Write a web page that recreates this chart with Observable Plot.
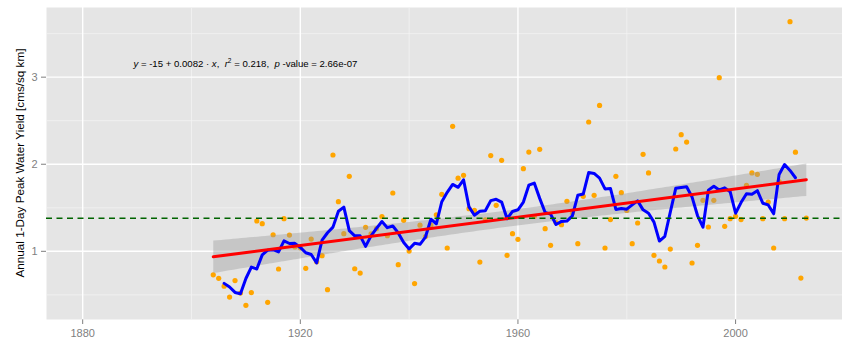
<!DOCTYPE html>
<html>
<head>
<meta charset="utf-8">
<script src="https://cdn.jsdelivr.net/npm/d3@7"></script>
<script src="https://cdn.jsdelivr.net/npm/@observablehq/plot@0.6"></script>
<style>
  html, body { margin: 0; padding: 0; background: #ffffff; }
  #chart { width: 842px; height: 341px; }
</style>
</head>
<body>
<div id="chart"></div>
<script>
// ---- data ----
const years = [
  1904,1905,1906,1907,1908,1909,1910,1911,1912,1913,
  1914,1915,1916,1917,1918,1919,1920,1921,1922,1923,
  1924,1925,1926,1927,1928,1929,1930,1931,1932,1933,
  1934,1935,1936,1937,1938,1939,1940,1941,1942,1943,
  1944,1945,1946,1947,1948,1949,1950,1951,1952,1953,
  1954,1955,1956,1957,1958,1959,1960,1961,1962,1963,
  1964,1965,1966,1967,1968,1969,1970,1971,1972,1973,
  1974,1975,1976,1977,1978,1979,1980,1981,1982,1983,
  1984,1985,1986,1987,1988,1989,1990,1991,1992,1993,
  1994,1995,1996,1997,1998,1999,2000,2001,2002,2003,
  2004,2005,2006,2007,2008,2009,2010,2011,2012,2013
];
const peakYield = [
  0.73, 0.69, 0.60, 0.475,0.664,0.52, 0.38, 0.526,1.348,1.318,
  0.414,1.19, 0.797,1.375,1.187,1.05, 1.04, 0.805,1.141,0.88,
  0.95, 0.56, 2.106,1.57, 1.203,1.861,0.80, 0.75, 1.276,1.20,
  1.26, 1.40, 1.18, 1.67, 0.847,1.356,1.003,0.629,1.30, 1.17,
  1.30, 1.42, 1.654,1.038,2.435,1.84, 1.873,1.49, 1.47, 0.877,
  1.36, 2.099,1.528,2.045,0.954,1.203,1.138,1.949,2.14, 1.40,
  2.171,1.26, 1.069,1.33, 1.306,1.574,1.44, 1.088,1.631,2.485,
  1.643,2.676,1.038,1.364,1.861,1.674,1.47, 1.088,1.325,2.114,
  1.90, 0.954,0.889,0.82, 1.026,2.175,2.34, 2.255,0.866,1.069,
  1.586,1.279,1.586,2.994,1.287,1.375,1.402,1.364,1.758,1.90,
  1.884,1.375,1.566,1.038,1.80, 1.375,3.637,2.138,0.693,1.382
];
const xTicks = [1880, 1920, 1960, 2000];
const xMinor = [1900, 1940, 1980];
const yTicks = [1, 2, 3];
const yMinor = [0.5, 1.5, 2.5, 3.5];
const xDomain = [1873.35, 2019.65];
const yDomain = [0.217, 3.80];
const yTitle = "Annual 1-Day Peak Water Yield [cms/sq km]";
const annotation = {x: 1910, y: 3.155,
  parts: [["y", true], [" = -15 + 0.0082 \u00b7 ", false], ["x", true], [",  ", false],
          ["r", true], ["2", "sup"], [" = 0.218,  ", false], ["p", true], [" -value = 2.66e-07", false]]};

const data = years.map((year, i) => ({year, value: peakYield[i]}));

const W = 842, H = 341;
const mL = 46, mR = 0, mT = 7, mB = 22;

const plot = Plot.plot({
  width: W, height: H,
  marginLeft: mL, marginRight: mR, marginTop: mT, marginBottom: mB,
  style: {fontFamily: "'Liberation Sans', Arial, sans-serif", fontSize: "11px", color: "#7F7F7F", background: "#ffffff"},
  x: {domain: xDomain, ticks: xTicks, tickFormat: d => String(d), tickSize: 5, tickPadding: 5, label: null},
  y: {domain: yDomain, ticks: yTicks, tickFormat: d => String(d), tickSize: 5, tickPadding: 4, label: null},
  marks: [
    Plot.frame({fill: "#E5E5E5", stroke: "none"}),
    Plot.ruleX(xMinor, {stroke: "#F2F2F2", strokeWidth: 0.8}),
    Plot.ruleY(yMinor, {stroke: "#F2F2F2", strokeWidth: 0.8}),
    Plot.ruleX(xTicks, {stroke: "#ffffff", strokeWidth: 1.4}),
    Plot.ruleY(yTicks, {stroke: "#ffffff", strokeWidth: 1.4}),
    Plot.dot(data, {x: "year", y: "value", r: 2.6, fill: "#FFA500", stroke: "none"}),
    Plot.linearRegressionY(data, {x: "year", y: "value", stroke: "none", fill: "#999999", fillOpacity: 0.4}),
    Plot.lineY(data, Plot.windowY({k: 5, anchor: "middle", reduce: "mean", strict: true},
      {x: "year", y: "value", stroke: "#0000FF", strokeWidth: 3})),
    Plot.linearRegressionY(data, {x: "year", y: "value", stroke: "#FF0000", strokeWidth: 3, ci: 0}),
    Plot.ruleY(data, Plot.groupZ({y: "mean"}, {y: "value", stroke: "#006400", strokeWidth: 1.3, strokeDasharray: "6,4.5"}))
  ]
});

document.getElementById("chart").appendChild(plot);

// helpers to position text through the plot's own scales
function sx(v) {
  const s = plot.scale("x");
  if (s && typeof s.apply === "function") return s.apply(v);
  return mL + (v - xDomain[0]) / (xDomain[1] - xDomain[0]) * (W - mL - mR);
}
function sy(v) {
  const s = plot.scale("y");
  if (s && typeof s.apply === "function") return s.apply(v);
  return H - mB - (v - yDomain[0]) / (yDomain[1] - yDomain[0]) * (H - mT - mB);
}

const NS = "http://www.w3.org/2000/svg";
const svg = plot.tagName.toLowerCase() === "svg" ? plot : plot.querySelector("svg");

// y-axis title
const t = document.createElementNS(NS, "text");
t.setAttribute("transform", `translate(20,${(mT + H - mB) / 2}) rotate(-90)`);
t.setAttribute("text-anchor", "middle");
t.setAttribute("dy", "0.35em");
t.setAttribute("fill", "#000000");
t.setAttribute("font-size", "11.7");
t.textContent = yTitle;
svg.appendChild(t);

// regression annotation (rich text)
const a = document.createElementNS(NS, "text");
a.setAttribute("x", sx(annotation.x));
a.setAttribute("y", sy(annotation.y));
a.setAttribute("dy", "0.35em");
a.setAttribute("text-anchor", "middle");
a.setAttribute("fill", "#000000");
a.setAttribute("font-size", "9.6");
a.style.whiteSpace = "pre";
let shifted = false;
for (const [txt, kind] of annotation.parts) {
  const ts = document.createElementNS(NS, "tspan");
  ts.textContent = txt;
  if (kind === true) ts.setAttribute("font-style", "italic");
  if (kind === "sup") { ts.setAttribute("font-size", "6.5"); ts.setAttribute("dy", "-3.8"); shifted = true; }
  else if (shifted) { ts.setAttribute("dy", "3.8"); shifted = false; }
  a.appendChild(ts);
}
svg.appendChild(a);
</script>
</body>
</html>
